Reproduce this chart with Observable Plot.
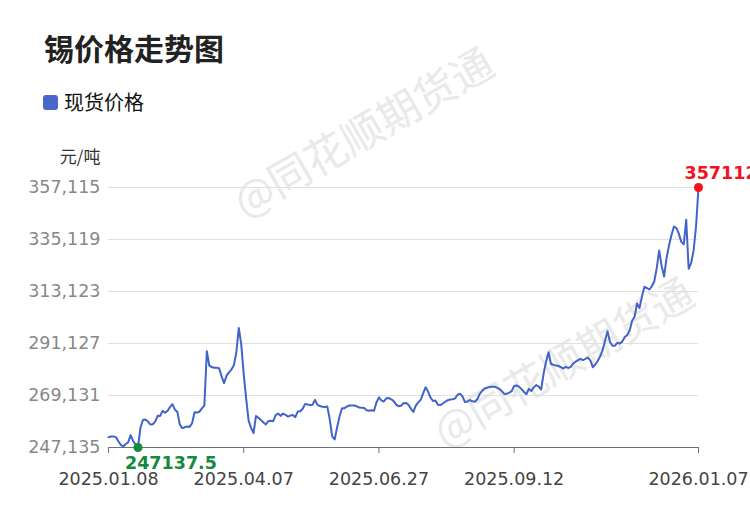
<!DOCTYPE html>
<html><head><meta charset="utf-8">
<script src="https://cdn.jsdelivr.net/npm/d3@7"></script>
<script src="https://cdn.jsdelivr.net/npm/@observablehq/plot@0.6"></script>
<style>
body{margin:0;background:#fff;}
#wrap{position:relative;width:750px;height:510px;overflow:hidden;font-family:"Noto Sans CJK SC","Noto Sans",sans-serif;}
.wm{position:absolute;transform:translate(-50%,-50%) rotate(-30deg);font-size:42px;color:#e9e9e9;white-space:nowrap;line-height:1;}
#title{position:absolute;left:44px;top:32px;font-size:30px;font-weight:bold;color:#222;line-height:1;}
#legend{position:absolute;left:43px;top:92px;height:20px;display:flex;align-items:center;}
.sw{width:15px;height:15px;border-radius:3px;background:#4a68cc;margin-right:6px;}
.lt{font-size:20px;color:#111;line-height:1;}
#chart{position:absolute;left:0;top:130px;}
</style></head>
<body>
<div id="wrap">
  <div class="wm" style="left:362px;top:130px">@同花顺期货通</div>
  <div class="wm" style="left:562px;top:360px">@同花顺期货通</div>
  <div id="title">锡价格走势图</div>
  <div id="legend"><div class="sw"></div><div class="lt">现货价格</div></div>
  <div id="chart"></div>
</div>
<script>
const seriesName = "现货价格";
const unitLabel = "元/吨";
const yTicks = [247135, 269131, 291127, 313123, 335119, 357115];
const tickIdx = [0, 55, 110, 165, 240];
const tickLabels = ["2025.01.08", "2025.04.07", "2025.06.27", "2025.09.12", "2026.01.07"];
const prices = [
251490,251750,251830,251530,249760,248240,247560,248620,249290,252380,
249930,248320,247137.5,255430,258770,258940,258220,256860,256990,258090,
260540,260500,262620,261860,262580,264220,265450,263170,262190,256860,
255340,255720,255980,255850,257410,262070,261900,262280,263720,264900,
287870,281740,281190,280850,280850,280640,277210,274380,277420,278900,
280090,281950,287320,297730,290750,278140,267780,258510,255430,253270,
260500,259660,258810,257710,256910,258260,258430,258260,260800,261520,
260500,261480,260970,260210,260630,260840,259950,262410,262490,263550,
265580,265320,265070,265240,267270,265160,264690,264350,264310,264520,
259060,251830,250520,255720,260330,263760,263760,264480,264900,264900,
264900,264560,264060,263970,263800,262910,262660,262870,262660,266170,
268330,267100,266590,267950,268070,267520,266760,265280,264610,264820,
265870,266000,265200,263590,262190,264860,266210,267270,270020,272640,
270780,268240,266800,267020,265240,265070,265750,266470,267140,267440,
267520,267900,269430,269850,268750,266340,266550,267230,266680,266470,
267520,269770,271120,272090,272390,272680,272810,272850,272470,271970,
270990,269810,269850,270320,270990,273150,273400,272850,271840,270610,
269640,271920,271030,272640,273530,272940,271670,278400,283510,287450,
282460,282120,281780,281610,281100,280550,281270,280810,281190,282630,
283430,284110,284660,284110,284610,285160,284020,281100,282240,283720,
285710,288290,292400,296330,291800,290150,290200,291420,291130,291930,
293880,294680,296670,300730,302460,308050,306140,310970,315110,314600,
313970,315320,317350,322890,330470,323950,319470,327210,332540,336940,
340580,339900,337570,334100,333050,343450,322730,325140,330420,340620,
357112
];

const data = prices.map((v, i) => ({i, v}));
const minI = d3.minIndex(prices), maxI = d3.maxIndex(prices);
const minPt = [data[minI]], maxPt = [data[maxI]];

const chart = Plot.plot({
  width: 750, height: 380,
  marginTop: 57, marginBottom: 63, marginLeft: 108, marginRight: 52,
  style: {background: "transparent", fontFamily: "DejaVu Sans", fontSize: "17.5px"},
  x: {domain: [0, prices.length - 1]},
  y: {domain: [yTicks[0], yTicks[yTicks.length - 1]]},
  marks: [
    Plot.gridY(yTicks, {stroke: "#e0e0e0", strokeOpacity: 1}),
    Plot.axisY({ticks: yTicks, tickFormat: d3.format(","), tickSize: 0, tickPadding: 8, fill: "#888", label: null, fontSize: 17.5}),
    Plot.ruleY([yTicks[0]], {stroke: "#6e7079"}),
    Plot.axisX({ticks: tickIdx, tickFormat: d => tickLabels[tickIdx.indexOf(d)], tickSize: 6, tickPadding: 19, stroke: "#6e7079", fill: "#444", label: null, fontSize: 17.5}),
    Plot.text([unitLabel], {frameAnchor: "top-left", dx: -8, dy: -37, textAnchor: "end", fill: "#333", fontFamily: "Noto Sans CJK SC", fontSize: 17}),
    Plot.line(data, {x: "i", y: "v", stroke: "#4264c9", strokeWidth: 2}),
    Plot.dot(minPt, {x: "i", y: "v", r: 4.5, fill: "#148a3c"}),
    Plot.text(minPt, {x: "i", y: "v", text: d => String(d.v), dx: -13, dy: 16, textAnchor: "start", fill: "#148a3c", fontWeight: "bold", fontSize: 17.5}),
    Plot.dot(maxPt, {x: "i", y: "v", r: 4.5, fill: "#f5121e"}),
    Plot.text(maxPt, {x: "i", y: "v", text: d => String(d.v), dx: -14, dy: -14, textAnchor: "start", fill: "#f5121e", fontWeight: "bold", fontSize: 17.5})
  ]
});
document.getElementById("chart").appendChild(chart);
</script>
</body></html>
